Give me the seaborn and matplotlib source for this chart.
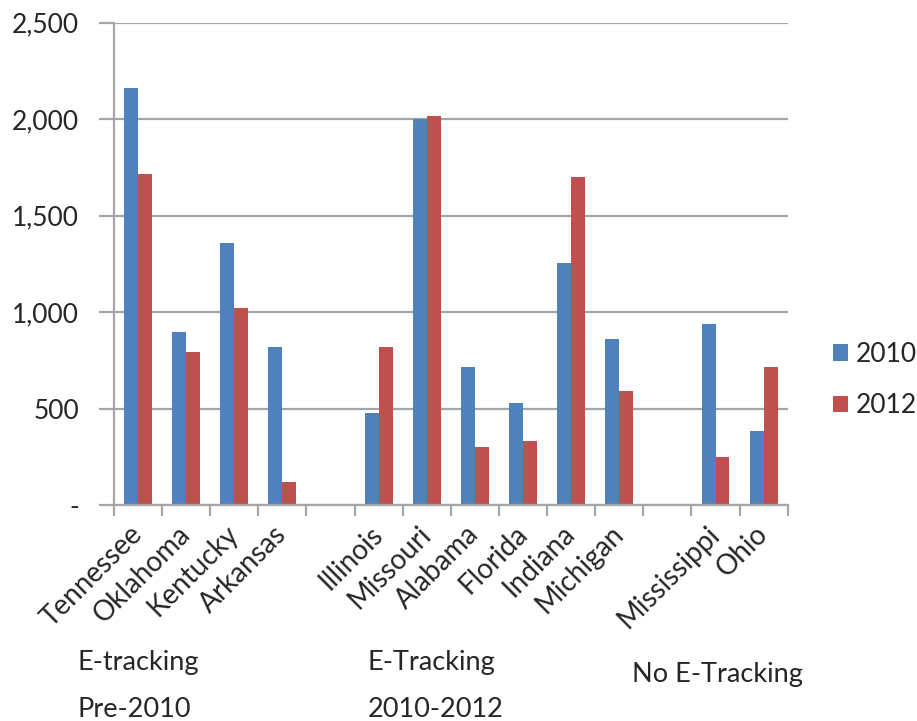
import pandas as pd
import numpy as np
import seaborn as sns
import matplotlib.pyplot as plt
from matplotlib.ticker import FuncFormatter, FixedLocator


# states grouped by e-tracking status, blanks are the gaps between groups
states = ['Tennessee', 'Oklahoma', 'Kentucky', 'Arkansas',
          'Illinois', 'Missouri', 'Alabama', 'Florida', 'Indiana', 'Michigan',
          'Mississippi', 'Ohio']
slots = ['Tennessee', 'Oklahoma', 'Kentucky', 'Arkansas', 'gap1',
         'Illinois', 'Missouri', 'Alabama', 'Florida', 'Indiana', 'Michigan', 'gap2',
         'Mississippi', 'Ohio']
vals_2010 = [2160, 895, 1360, 821, 479, 2000, 717, 530, 1256, 860, 937, 385]
vals_2012 = [1715, 791, 1020, 118, 821, 2015, 302, 333, 1702, 593, 250, 717]
years = ['2010', '2012']
group_labels = ['E-tracking\nPre-2010', 'E-Tracking\n2010-2012', 'No E-Tracking']

df = pd.DataFrame({
    'state': states * 2,
    'year': ['2010'] * len(states) + ['2012'] * len(states),
    'value': vals_2010 + vals_2012,
})

sns.set_style('white')
plt.rcParams['font.family'] = ['Lato', 'DejaVu Sans']
text_col = '#262626'
grid_col = '#a6a6a6'

fig = plt.figure(figsize=(9.17, 7.21), dpi=100)
ax = fig.add_axes([0.1243, 0.2996, 0.7347, 0.669])

sns.barplot(data=df, x='state', y='value', hue='year', order=slots, hue_order=years,
            palette=['#4F81BD', '#C0504D'], width=0.58, gap=0, saturation=1,
            edgecolor='none', legend=True, ax=ax)

ax.set_xlim(-0.5, len(slots) - 0.5)
ax.set_ylim(0, 2500)
ax.set_yticks([0, 500, 1000, 1500, 2000, 2500])
ax.yaxis.set_major_formatter(FuncFormatter(lambda v, p: '-' if v == 0 else f'{int(v):,}'))
ax.yaxis.grid(True, color=grid_col, linewidth=1.6)
ax.set_axisbelow(True)
ax.set_xlabel('')
ax.set_ylabel('')

for s in ['top', 'right']:
    ax.spines[s].set_visible(False)
for s in ['left', 'bottom']:
    ax.spines[s].set_color(grid_col)
    ax.spines[s].set_linewidth(1.6)

ax.tick_params(axis='y', length=11, color=grid_col, width=1.6, labelsize=19,
               labelcolor=text_col, pad=14, left=True)

# category boundary ticks on the x axis
ax.xaxis.set_minor_locator(FixedLocator(np.arange(-0.5, len(slots), 1)))
ax.tick_params(axis='x', which='minor', length=8, color=grid_col, width=1.6, bottom=True)
ax.tick_params(axis='x', which='major', length=0, pad=18)
ax.set_xticks(range(len(slots)))
ax.set_xticklabels(['' if s.startswith('gap') else s for s in slots],
                   rotation=45, ha='right', va='center', rotation_mode='anchor',
                   fontsize=20, color=text_col)

handles, labels = ax.get_legend_handles_labels()
ax.legend(handles, labels, loc='center left', bbox_to_anchor=(0.908, 0.473),
          bbox_transform=fig.transFigure, frameon=False, fontsize=19,
          borderpad=0, borderaxespad=0,
          handlelength=0.57, handleheight=0.57, handletextpad=0.3, labelspacing=1.0,
          labelcolor=text_col)

fig.text(0.085, 0.0985, group_labels[0], ha='left', va='top', fontsize=19.5,
         color=text_col, linespacing=2.1)
fig.text(0.401, 0.0985, group_labels[1], ha='left', va='top', fontsize=19.5,
         color=text_col, linespacing=2.1)
fig.text(0.689, 0.064, group_labels[2], ha='left', va='center', fontsize=19.5,
         color=text_col)

fig.savefig('out.png', dpi=100)
